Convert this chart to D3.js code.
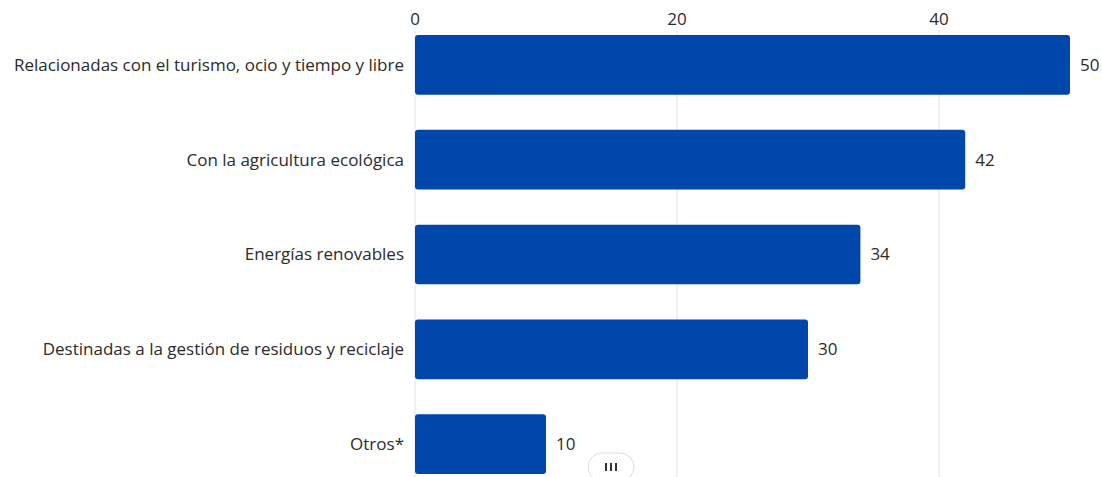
<!DOCTYPE html>
<html>
<head>
<meta charset="utf-8">
<script src="https://cdn.jsdelivr.net/npm/d3@7"></script>
<style>
  body { margin: 0; background: #fff; overflow: hidden; }
  text { font-family: "Open Sans", "Noto Sans", sans-serif; }
</style>
</head>
<body>
<div id="chart"></div>
<script>
const categories = [
  "Relacionadas con el turismo, ocio y tiempo y libre",
  "Con la agricultura ecológica",
  "Energías renovables",
  "Destinadas a la gestión de residuos y reciclaje",
  "Otros*"
]
const values = [50, 42, 34, 30, 10]
const tickValues = [0, 20, 40]

const W = 1102, H = 477
const plotLeft = 415
const plotTop = 17

const svg = d3.select('#chart').append('svg')
  .attr('width', W).attr('height', H)

const x = d3.scaleLinear().domain([0, 50]).range([plotLeft, plotLeft + 655])
const y = d3.scaleBand().domain(categories)
  .range([plotTop, plotTop + 5 * 95])
  .paddingInner(0.37).paddingOuter(0.19)

// grid
svg.append('g').selectAll('line')
  .data(tickValues)
  .join('line')
  .attr('x1', d => x(d)).attr('x2', d => x(d))
  .attr('y1', 30).attr('y2', H)
  .attr('stroke', '#e3e3e3').attr('stroke-width', 1)

// top axis labels
svg.append('g').selectAll('text')
  .data(tickValues)
  .join('text')
  .attr('x', d => x(d)).attr('y', 25)
  .attr('text-anchor', 'middle')
  .attr('font-size', 17).attr('fill', '#2b2b2b')
  .text(d => d)

// bars
svg.append('g').selectAll('rect')
  .data(values)
  .join('rect')
  .attr('x', x(0))
  .attr('y', (d, i) => y(categories[i]))
  .attr('width', d => x(d) - x(0))
  .attr('height', y.bandwidth())
  .attr('rx', 3)
  .attr('fill', '#0047ab')

// category labels
svg.append('g').selectAll('text')
  .data(categories)
  .join('text')
  .attr('x', 404)
  .attr('y', d => y(d) + y.bandwidth() / 2)
  .attr('dy', '0.35em')
  .attr('text-anchor', 'end')
  .attr('font-size', 17).attr('fill', '#2b2b2b')
  .text(d => d)

// value labels
svg.append('g').selectAll('text')
  .data(values)
  .join('text')
  .attr('x', d => x(d) + 10)
  .attr('y', (d, i) => y(categories[i]) + y.bandwidth() / 2)
  .attr('dy', '0.35em')
  .attr('font-size', 17).attr('fill', '#2b2b2b')
  .text(d => d)

// little scroll handle at the bottom
const handle = svg.append('g').attr('transform', 'translate(611,466)')
handle.append('rect')
  .attr('x', -23).attr('y', -13).attr('width', 46).attr('height', 28)
  .attr('rx', 14).attr('fill', '#fff').attr('stroke', '#ddd')
handle.selectAll('line').data([-5, 0, 5]).join('line')
  .attr('x1', d => d).attr('x2', d => d)
  .attr('y1', -3).attr('y2', 5)
  .attr('stroke', '#333').attr('stroke-width', 2)
</script>
</body>
</html>
